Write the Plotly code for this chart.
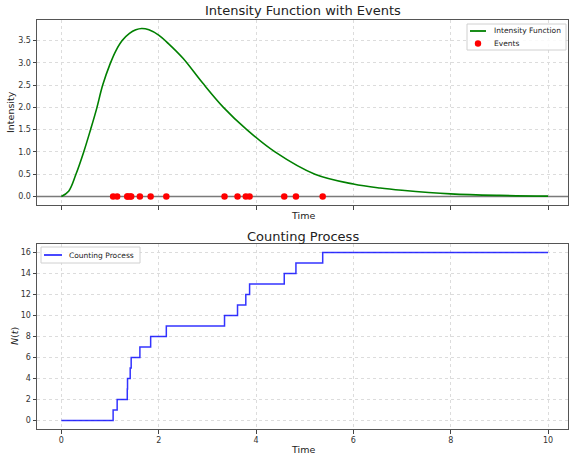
import plotly.graph_objects as go

# Intensity function readings
t_curve = [0, 0.15, 0.3, 0.46, 0.6, 0.72, 0.85, 1.0, 1.12, 1.25, 1.4, 1.53, 1.65, 1.8, 2.0, 2.2,
           2.5, 2.9, 3.33, 3.81, 4.39, 5.21, 6.0, 6.55, 7.0, 8.0, 9.0, 10.0]
lam_curve = [0, 0.12, 0.5, 1.0, 1.5, 1.95, 2.5, 2.97, 3.27, 3.5, 3.66, 3.74, 3.77, 3.74, 3.62, 3.43,
             3.1, 2.55, 2.0, 1.5, 1.0, 0.5, 0.28, 0.19, 0.14, 0.06, 0.025, 0.01]

# Event times
events = [1.064, 1.147, 1.355, 1.36, 1.415, 1.435, 1.614, 1.835, 2.157, 3.353, 3.62,
          3.79, 3.868, 4.58, 4.82, 5.37]
t_end = 10.0

top_ticks = [0.0, 0.5, 1.0, 1.5, 2.0, 2.5, 3.0, 3.5]
bottom_ticks = [0, 2, 4, 6, 8, 10, 12, 14, 16]
x_ticks = [0, 2, 4, 6, 8, 10]
x_range = [-0.5, 10.41]

W, H = 569, 454
def px_x(p):
    return p / W
def px_y(p):
    return 1 - p / H

GREEN = "#008000"
RED = "#ff0000"
BLUE = "rgba(0,0,255,0.8)"

step_x = [0] + events + [t_end]
step_y = [0] + list(range(1, len(events) + 1)) + [len(events)]

fig = go.Figure()
# horizontal reference line at zero across the axis range (axhline)
fig.add_trace(go.Scatter(x=x_range, y=[0, 0], mode="lines", line=dict(color="#7a7a7a", width=1.5),
                         xaxis="x", yaxis="y", showlegend=False, hoverinfo="skip"))
fig.add_trace(go.Scatter(x=t_curve, y=lam_curve, mode="lines",
                         line=dict(color=GREEN, width=1.6, shape="spline", smoothing=1.0),
                         name="Intensity Function", xaxis="x", yaxis="y", showlegend=False))
fig.add_trace(go.Scatter(x=events, y=[0] * len(events), mode="markers", marker=dict(color=RED, size=6.5),
                         name="Events", xaxis="x", yaxis="y", showlegend=False))
fig.add_trace(go.Scatter(x=step_x, y=step_y, mode="lines", line=dict(color=BLUE, width=1.5, shape="hv"),
                         name="Counting Process", xaxis="x2", yaxis="y2", showlegend=False))

axis_common = dict(showline=True, mirror=True, linecolor="#555", linewidth=1,
                   ticks="outside", ticklen=3.5, tickcolor="#444", tickwidth=1,
                   showgrid=True, gridcolor="#dcdcdc", griddash="3px,3px", gridwidth=1,
                   zeroline=False, tickfont=dict(family="DejaVu Sans", size=8, color="#333"))

xdom = [px_x(37), px_x(568)]

# manual legends (paper coordinates from pixel positions)
def rect(x0, y0, x1, y1):
    return dict(type="rect", xref="paper", yref="paper", x0=px_x(x0), x1=px_x(x1), y0=px_y(y1), y1=px_y(y0),
                line=dict(color="#d0d0d0", width=1), fillcolor="rgba(255,255,255,0.85)", layer="above")
def hline(x0, x1, y, color):
    return dict(type="line", xref="paper", yref="paper", x0=px_x(x0), x1=px_x(x1), y0=px_y(y), y1=px_y(y),
                line=dict(color=color, width=1.8), layer="above")
def dot(cx, cy, r, color):
    return dict(type="circle", xref="paper", yref="paper", x0=px_x(cx - r), x1=px_x(cx + r),
                y0=px_y(cy + r), y1=px_y(cy - r), line=dict(color=color, width=0), fillcolor=color, layer="above")

shapes = [rect(467, 24, 566, 50), hline(470, 486, 31, GREEN), dot(478, 43.5, 3.2, RED),
          rect(41, 247, 140, 263), hline(44, 62, 255, BLUE)]

fig.update_layout(
    width=W, height=H, margin=dict(l=0, r=0, t=0, b=0),
    paper_bgcolor="white", plot_bgcolor="white",
    xaxis=dict(domain=xdom, range=x_range, tickvals=x_ticks, showticklabels=False, anchor="y", **axis_common),
    yaxis=dict(domain=[px_y(205), px_y(20)], range=[-0.19, 3.96], tickvals=top_ticks, tickformat=".1f", anchor="x", **axis_common),
    xaxis2=dict(domain=xdom, range=x_range, tickvals=x_ticks, anchor="y2", **axis_common),
    yaxis2=dict(domain=[px_y(429), px_y(244)], range=[-0.8, 16.8], tickvals=bottom_ticks, anchor="x2", **axis_common),
    shapes=shapes,
    showlegend=False,
)

ann_font = dict(family="DejaVu Sans", color="#222")
def text(x, y, s, size, anchor="center", angle=0):
    fig.add_annotation(x=px_x(x), y=px_y(y), xref="paper", yref="paper", text=s, showarrow=False,
                       font=dict(size=size, **ann_font), xanchor=anchor, yanchor="middle", textangle=angle)

cxp = (37 + 568) / 2
text(cxp, 11, "Intensity Function with Events", 13)
text(cxp, 236, "Counting Process", 13)
text(cxp, 216, "Time", 9.5)
text(cxp, 449, "Time", 9.5)
text(10, 112, "Intensity", 9.5, angle=-90)
text(14, 336, "<i>N</i>(<i>t</i>)", 9.5, angle=-90)
# legend labels
text(492, 31, "Intensity Function", 7.5, anchor="left")
text(492, 43.5, "Events", 7.5, anchor="left")
text(67, 255, "Counting Process", 7.5, anchor="left")

fig.write_html("out.html")
